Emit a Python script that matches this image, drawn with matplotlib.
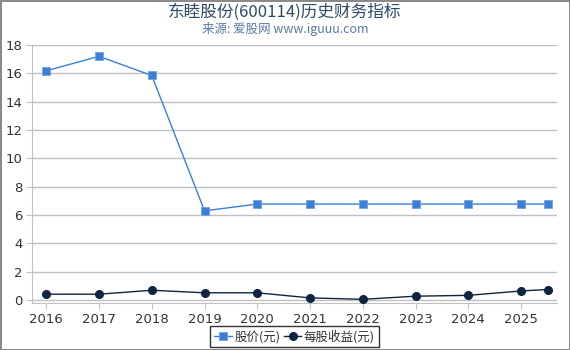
import matplotlib
matplotlib.use("Agg")
import matplotlib.pyplot as plt

years = [2016, 2017, 2018, 2019, 2020, 2021, 2022, 2023, 2024, 2025, 2025.5]
year_ticks = [2016, 2017, 2018, 2019, 2020, 2021, 2022, 2023, 2024, 2025]
price = [16.18, 17.2, 15.85, 6.3, 6.78, 6.78, 6.78, 6.78, 6.78, 6.78, 6.78]
eps = [0.42, 0.42, 0.70, 0.52, 0.52, 0.16, 0.06, 0.28, 0.34, 0.65, 0.75]
y_ticks = [0, 2, 4, 6, 8, 10, 12, 14, 16, 18]

plt.rcParams['font.family'] = ['DejaVu Sans', 'Noto Sans CJK SC']
cjk = ['Noto Sans CJK SC', 'DejaVu Sans']

fig = plt.figure(figsize=(5.7, 3.5), dpi=100)
fig.patch.set_facecolor('white')
fig.patch.set_edgecolor('#8a8a8a')
fig.patch.set_linewidth(2)

ax = fig.add_axes([32/570, 1-303/350, (557-32)/570, (303-45)/350])
ax.set_xlim(2015.73, 2025.68)
ax.set_ylim(-0.2, 18)

ax.plot(years, price, color='#3b7fd6', lw=1, marker='s', ms=5.5,
        mec='#6fa3e6', mew=0.6, label='股价(元)', zorder=3)
ax.plot(years, eps, color='#0f2440', lw=1, marker='o', ms=5.5,
        mec='#0f2440', label='每股收益(元)', zorder=3)

ax.set_yticks(y_ticks)
ax.set_xticks(year_ticks)
ax.set_xticklabels([str(y) for y in year_ticks])
ax.grid(axis='y', color='#c0c0c0', lw=1)
ax.set_axisbelow(True)
for s in ['top', 'right']:
    ax.spines[s].set_visible(False)
ax.spines['left'].set_color('#c0c0c0')
ax.spines['bottom'].set_color('#c0c0c0')
ax.tick_params(axis='both', colors='#c0c0c0', labelcolor='#333333', labelsize=9.5, length=4)
ax.tick_params(axis='y', pad=3)

fig.text(0.5, 0.965, '东睦股份(600114)历史财务指标', ha='center', va='center',
         fontsize=12, color='#2e4a6b', family=cjk)
fig.text(0.5, 0.918, '来源: 爱股网 www.iguuu.com', ha='center', va='center',
         fontsize=9, color='#5b7aa3', family=cjk)

leg = ax.legend(loc='upper center', bbox_to_anchor=(0.5, -0.09), ncol=2,
                frameon=True, fancybox=False, edgecolor='black',
                prop={'family': cjk, 'size': 9}, handlelength=1.4,
                handletextpad=0.2, columnspacing=0.3, borderpad=0.3,
                borderaxespad=0.0)
leg.get_frame().set_linewidth(1)
for t in leg.get_texts():
    t.set_color('#333333')

fig.savefig('out.png', dpi=100)
